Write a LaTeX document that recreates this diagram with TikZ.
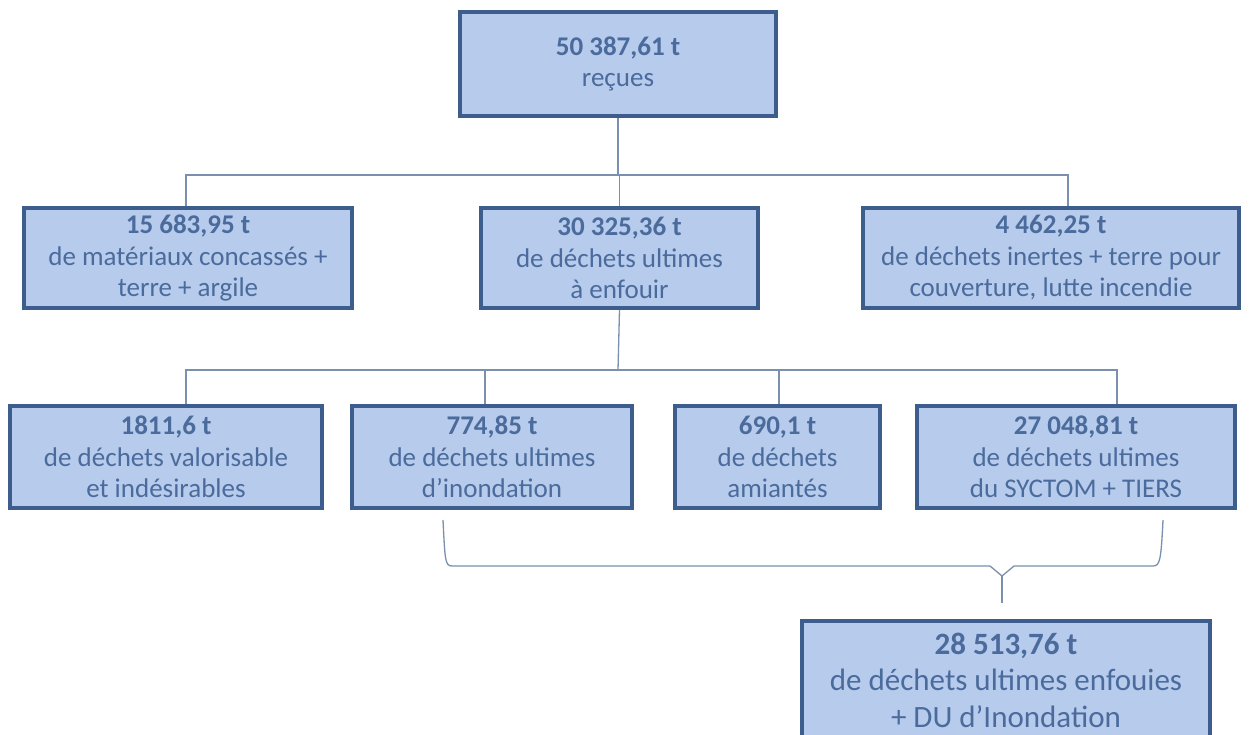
\documentclass[tikz,border=0pt]{standalone}
\usepackage{fontspec}
\setmainfont{Carlito}
\definecolor{boxfill}{HTML}{B7CBEC}
\definecolor{boxborder}{HTML}{3D5E8C}
\definecolor{txt}{HTML}{4A6B9C}
\definecolor{conn}{HTML}{7A90AE}
\tikzset{
  box/.style={draw=boxborder, line width=3.5pt, fill=boxfill, text=txt, align=center,
    inner sep=0pt, font=\fontsize{27}{31.5}\selectfont},
  conline/.style={draw=conn, line width=1.3pt},
}
\begin{document}
\begin{tikzpicture}[x=1pt,y=-1pt]
\useasboundingbox (0,0) rectangle (1249,734);
\clip (0,0) rectangle (1249,734);
\fill[white] (0,0) rectangle (1249,734);

% row 1
\node[box, minimum width=316pt, minimum height=104pt] (top) at (618,64)
  {\textbf{50 387,61 t}\\reçues};

% row 2
\node[box, minimum width=328pt, minimum height=100pt] (l2) at (188,258)
  {\textbf{15 683,95 t}\\de matériaux concassés +\\terre + argile};
\node[box, minimum width=277pt, minimum height=100pt] (m2) at (619.5,258)
  {\textbf{30 325,36 t}\\de déchets ultimes\\à enfouir};
\node[box, minimum width=376pt, minimum height=100pt] (r2) at (1051,258)
  {\textbf{4 462,25 t}\\de déchets inertes + terre pour\\couverture, lutte incendie};

% row 3
\node[box, minimum width=312pt, minimum height=102pt] (a3) at (166,457)
  {\textbf{1811,6 t}\\de déchets valorisable\\et indésirables};
\node[box, minimum width=280pt, minimum height=102pt] (b3) at (492,457)
  {\textbf{774,85 t}\\de déchets ultimes\\d’inondation};
\node[box, minimum width=205pt, minimum height=102pt] (c3) at (777.5,457)
  {\textbf{690,1 t}\\de déchets\\amiantés};
\node[box, minimum width=318pt, minimum height=102pt] (d3) at (1076,457)
  {\textbf{27 048,81 t}\\de déchets ultimes\\du SYCTOM + TIERS};

% bottom box
\node[box, minimum width=408pt, minimum height=150pt, anchor=north] (bot) at (1006,619) {};
\node[text=txt, align=center, inner sep=0pt, font=\fontsize{31}{36.5}\selectfont] (bottxt) at (1006,680)
  {\textbf{28 513,76 t}\\de déchets ultimes enfouies\\+ DU d’Inondation};

% connectors row1 -> row2
\coordinate (j1) at (618,175);
\draw[conline] (top.south) -- (j1);
\draw[conline] ([xshift=-2pt]l2.north) |- (j1);
\draw[conline] (m2.north) -- (m2.north |- j1);
\draw[conline] ([xshift=17pt]r2.north) |- (j1);

% connectors row2 -> row3
\coordinate (j2) at (618,370);
\draw[conline] (m2.south) -- (j2);
\draw[conline] ([xshift=20pt]a3.north) |- (j2);
\draw[conline] ([xshift=-7pt]b3.north) |- (j2);
\draw[conline] ([xshift=1.5pt]c3.north) |- (j2);
\draw[conline] ([xshift=41pt]d3.north) |- (j2);

% brace
\coordinate (bl) at (443,520);
\coordinate (br) at (1163,520);
\coordinate (tip) at (1002,603);
\draw[conline, line join=round] (bl) .. controls (445,560) and (445,566) .. (452,566)
  -- (990,566) -- (1002,576) -- (1014,566) -- (1153,566)
  .. controls (1160,566) and (1161,560) .. (br);
\draw[conline] (1002,576) -- (tip);
\end{tikzpicture}
\end{document}
